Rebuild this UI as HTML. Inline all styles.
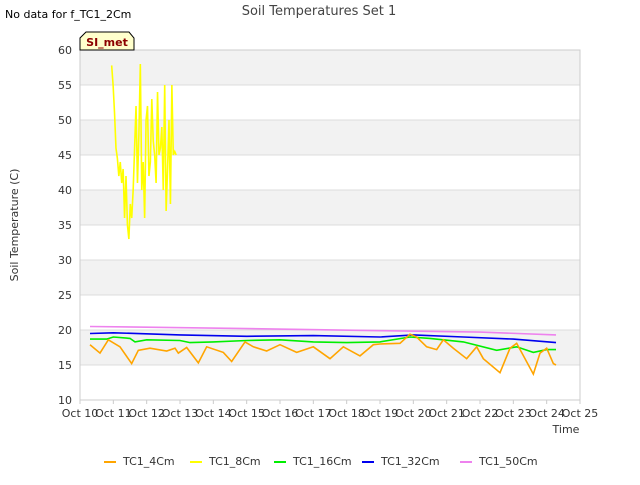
<!DOCTYPE html>
<html><head><meta charset="utf-8"><style>
body{margin:0;background:#fff;font-family:"Liberation Sans","DejaVu Sans",sans-serif}
svg text{font-family:"DejaVu Sans","Liberation Sans",sans-serif}
</style></head><body>
<svg id="c" width="640" height="480" xmlns="http://www.w3.org/2000/svg">
<rect width="640" height="480" fill="#fff"/>
<text x="5" y="18" font-size="11" fill="#000">No data for f_TC1_2Cm</text>
<text x="319" y="15" font-size="13" fill="#444" text-anchor="middle">Soil Temperatures Set 1</text>
<text x="18" y="225" font-size="11" fill="#333" text-anchor="middle" transform="rotate(-90 18 225)">Soil Temperature (C)</text>
<text x="566" y="433" font-size="11" fill="#333" text-anchor="middle">Time</text>
<g id="plot"></g>
<g id="legend"></g>
</svg>
<script>
const yTicks=[10,15,20,25,30,35,40,45,50,55,60];
const xTickLabels=["Oct 10","Oct 11","Oct 12","Oct 13","Oct 14","Oct 15","Oct 16","Oct 17","Oct 18","Oct 19","Oct 20","Oct 21","Oct 22","Oct 23","Oct 24","Oct 25"];
const xTickDays=[10,11,12,13,14,15,16,17,18,19,20,21,22,23,24,25];
const seriesNames=["TC1_4Cm","TC1_8Cm","TC1_16Cm","TC1_32Cm","TC1_50Cm"];
const seriesColors=["orange","yellow","#00ee00","#0000ee","violet"];
const d4=[10.3,10.6,10.85,11.2,11.55,11.75,12.1,12.6,12.85,12.95,13.2,13.55,13.8,14.3,14.55,14.95,15.2,15.6,16,16.5,17,17.5,17.9,18.4,18.8,19,19.6,19.9,20.1,20.4,20.7,20.9,21.2,21.6,21.9,22.1,22.6,22.9,23.1,23.6,23.8,24,24.2,24.28];
const v4=[17.9,16.7,18.6,17.6,15.2,17.1,17.4,17.0,17.4,16.7,17.5,15.3,17.6,16.8,15.5,18.3,17.6,17.0,17.9,16.8,17.6,15.9,17.6,16.3,17.9,18.0,18.1,19.4,19.0,17.6,17.2,18.6,17.4,15.9,17.6,15.9,13.9,17.4,18.1,13.7,16.7,17.4,15.2,15.0];
const v8=[57.8,55,51,46,44.5,42,44,41,43,36,42,35,33,38,36,40,46,52,41,48,58,40,44,36,50,52,42,44,53,47,45,41,54,45,46,49,40,55,37,43,50,38,55,45,45.5,45];
const d8start=10.95, d8step=0.043;
const d16=[10.3,10.8,11,11.5,11.65,12,13,13.3,14,15,16,17,18,19,19.9,20.5,21.5,22.5,23.1,23.6,24,24.28];
const v16=[18.7,18.7,19.0,18.8,18.3,18.6,18.5,18.2,18.3,18.5,18.6,18.3,18.2,18.3,19.0,18.8,18.3,17.1,17.6,16.8,17.2,17.2];
const d32=[10.3,11,13,15,17,19,20,21.5,23,24.28];
const v32=[19.5,19.6,19.3,19.1,19.2,19.0,19.3,19.0,18.7,18.2];
const d50=[10.3,12,15,19,22,24.28];
const v50=[20.5,20.4,20.2,19.9,19.7,19.3];

const NS="http://www.w3.org/2000/svg";
const X0=80,X1=580,Y0=50,Y1=400;
const xs=d=>X0+(d-10)/15*(X1-X0);
const ys=v=>Y1-(v-10)/50*(Y1-Y0);
const plot=document.getElementById('plot');
function mk(tag,attrs,parent){const e=document.createElementNS(NS,tag);for(const k in attrs)e.setAttribute(k,attrs[k]);parent.appendChild(e);return e;}
// bands
for(let i=0;i<yTicks.length-1;i++){
  if(i%2===1){const r=mk('rect',{x:X0,y:ys(yTicks[i+1]),width:X1-X0,height:ys(yTicks[i])-ys(yTicks[i+1]),fill:'#f2f2f2'},plot);
  
  }
}
yTicks.forEach(t=>{
  const l=mk('line',{x1:X0,x2:X1,y1:ys(t),y2:ys(t),stroke:'#dcdcdc'},plot);
  
  
  const tx=mk('text',{x:X0-8,y:ys(t)+4,'font-size':11,'text-anchor':'end',fill:'#333'},plot);
  tx.textContent=t;
  
  
});
const fr=mk('rect',{x:X0,y:Y0,width:X1-X0,height:Y1-Y0,fill:'none',stroke:'#ccc'},plot);


xTickDays.forEach((d,i)=>{
  const l=mk('line',{x1:xs(d),x2:xs(d),y1:Y1,y2:Y1+4,stroke:'#ccc'},plot);
  
  
  const tx=mk('text',{x:xs(d),y:Y1+17,'font-size':11,'text-anchor':'middle',fill:'#333'},plot);
  tx.textContent=xTickLabels[i];
  
  
});
function line(days,vals,color,name){
  const p=mk('polyline',{points:days.map((d,i)=>xs(d)+','+ys(vals[i])).join(' '),fill:'none',stroke:color,'stroke-width':1.6},plot);
  
  
}
line(d50,v50,seriesColors[4],'series-tc1-50cm');
line(d32,v32,seriesColors[3],'series-tc1-32cm');
line(d16,v16,seriesColors[2],'series-tc1-16cm');
line(d4,v4,seriesColors[0],'series-tc1-4cm');
line(v8.map((_,i)=>d8start+i*d8step),v8,seriesColors[1],'series-tc1-8cm');
// SI_met tag
const tg=document.createElementNS(NS,'g');plot.appendChild(tg);


mk('path',{d:'M80,50 L80,38 L86,32 L129,32 L134,38 L134,50 Z',fill:'#ffffcc',stroke:'#000','stroke-width':1},tg);
const st=mk('text',{x:107,y:46,'font-size':11,'font-weight':'bold','text-anchor':'middle',fill:'#8b0000'},tg);
st.textContent='SI_met';
// legend
const lg=document.getElementById('legend');
const lx=[104,190,274,362,460];
seriesNames.forEach((n,i)=>{
  const g=document.createElementNS(NS,'g');lg.appendChild(g);
  
  
  mk('line',{x1:lx[i],x2:lx[i]+12,y1:462,y2:462,stroke:seriesColors[i],'stroke-width':2},g);
  const t=mk('text',{x:lx[i]+19,y:465,'font-size':11,fill:'#333'},g);
  t.textContent=n;
});
</script>
</body></html>
